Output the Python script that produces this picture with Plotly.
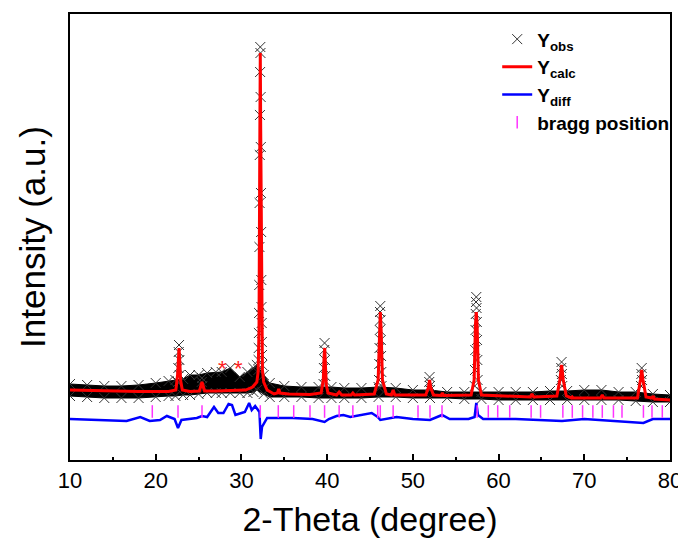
import plotly.graph_objects as go

# ---- data (intensity in arbitrary units) ----
band_x = [10, 12, 14, 16, 18, 20, 21.5, 22.3, 23.2, 24, 25, 26, 27, 27.7, 28.7, 29.8, 30.7, 31.4, 31.8,
          32.6, 33.3, 35, 37, 39, 40.5, 42, 44, 46, 48, 50, 52, 54, 56, 58, 60, 62, 64, 66, 68, 70,
          72, 74, 76, 78, 80]
band_top = [76, 75, 74, 74, 75, 77, 79, 80, 81, 85, 85, 87, 88, 88, 92, 83, 88, 92, 95,
            85, 77, 74, 73, 73, 73, 72, 72, 73, 72, 70, 70, 68, 68, 68, 68, 68, 68, 69, 69, 70,
            70, 68, 68, 66, 65]
band_bottom = [64, 63, 62, 62, 62, 63, 64, 64, 65, 65, 66, 67, 67, 67, 67, 67, 67, 68, 70,
               66, 63, 63, 63, 62, 62, 62, 62, 63, 63, 62, 62, 62, 61, 61, 60, 60, 60, 60, 60, 60,
               60, 60, 59, 58, 58]

obs_peak_x = [22.72, 22.68, 22.76, 22.64, 22.8, 22.6,
              25.4, 25.36, 25.44,
              32.2, 32.22, 32.18, 32.24, 32.16, 32.26, 32.14, 32.28, 32.12, 32.3, 32.1, 32.32,
              32.08, 32.34, 32.06, 32.36, 32.04, 32.38, 32.02, 32.4, 32.0, 32.42, 31.98,
              39.7, 39.66, 39.74, 39.62, 39.78, 39.58,
              46.2, 46.17, 46.23, 46.14, 46.26, 46.11, 46.29, 46.08, 46.32, 46.05, 46.35,
              51.95, 51.91, 51.99,
              57.4, 57.37, 57.43, 57.34, 57.46, 57.31, 57.49, 57.28, 57.52, 57.25, 57.55, 57.22,
              67.35, 67.31, 67.39, 67.27, 67.43,
              76.7, 76.66, 76.74, 76.62]
obs_peak_y = [115, 108, 100, 92, 85, 78,
              82, 78, 74,
              413, 407, 388, 363, 345, 313, 305, 267, 257, 228, 213, 180,
              175, 153, 147, 137, 127, 118, 112, 105, 100, 95, 90,
              117, 110, 100, 92, 84, 76,
              154, 148, 140, 130, 120, 112, 104, 96, 88, 80, 74,
              83, 78, 74,
              163, 158, 152, 146, 138, 130, 120, 110, 100, 90, 80, 74,
              98, 92, 86, 80, 74,
              92, 86, 80, 74]

calc_x = [10, 12, 15, 18, 21.5,
          22.35, 22.55, 22.65, 22.72, 22.8, 22.9, 23.1,
          24, 25.1, 25.3, 25.4, 25.5, 25.7,
          27, 29, 30.5, 31.3, 31.8,
          31.95, 32.05, 32.15, 32.2, 32.25, 32.35, 32.45,
          32.6, 33.0, 33.8, 34.2, 34.35, 34.5, 35.5, 38,
          39.3, 39.55, 39.65, 39.72, 39.8, 39.9, 40.1,
          41.1, 41.4, 41.7, 42.8, 43.0, 43.2, 45.5,
          45.95, 46.1, 46.2, 46.3, 46.45, 46.9,
          47.5, 47.7, 47.9, 51.5, 51.8, 51.95, 52.1, 52.4,
          53.3, 53.45, 53.6, 56.8,
          57.15, 57.3, 57.4, 57.5, 57.65, 58.0,
          63.7, 63.9, 64.1, 66.8,
          67.15, 67.35, 67.55, 67.9,
          68.5, 68.6, 68.7, 71.9, 72.1, 72.3, 76.2,
          76.55, 76.7, 76.85, 77.2,
          77.9, 78.05, 78.2, 80]
calc_y = [70, 69.5, 69, 68.5, 68.5,
          70, 85, 105, 112, 100, 80, 70,
          68.5, 69, 75, 78, 75, 69,
          69, 69.5, 70, 73, 78,
          88, 130, 330, 407, 330, 140, 90,
          78, 70, 66, 67, 71, 67, 66, 65.5,
          67, 80, 105, 112, 95, 75, 67,
          65, 68, 65, 65, 67, 65, 66,
          80, 130, 148, 130, 80, 66,
          65, 70, 65, 65, 72, 80, 72, 65,
          64.5, 67, 64.5, 65,
          80, 135, 148, 135, 80, 65,
          63, 66, 63, 64,
          80, 95, 80, 64,
          62, 63, 62, 62, 65, 62, 62,
          80, 90, 80, 63,
          62, 64, 61, 60]

diff_x = [10, 13, 16.6, 18.2, 19.3, 20.5, 21.3, 22.2, 22.6, 23.0,
          23.7, 24.8, 25.4, 26.0, 26.8, 27.3, 27.9, 28.5, 28.9, 29.3,
          30.0, 30.4, 30.9, 31.2, 31.6, 31.9, 32.1, 32.25, 32.4, 33.0,
          36.0, 38.3, 39.7, 40.2, 41.1, 41.9, 42.7, 45.2, 45.9, 46.2,
          48.1, 50, 52.0, 53.4, 54.3, 56.5, 57.2, 57.4, 57.6, 58.2,
          62, 67.4, 70, 76.9, 78, 80]
diff_y = [41, 40, 39, 43, 39, 40, 44, 41, 32, 40,
          41, 42, 44, 43, 53, 47, 47, 56, 55, 45,
          47, 48, 57, 50, 54, 50, 48, 21, 33, 42,
          42, 41, 38, 41, 44, 45, 43, 47, 43, 40,
          43, 41, 40, 45, 41, 41, 43, 57, 45, 41,
          41, 39, 41, 37, 41, 41]

bragg_x = [19.6, 22.6, 25.4, 32.2, 34.3, 36.1, 38.0, 39.7, 41.4, 43.0, 45.9,
           46.2, 47.7, 50.6, 52.0, 53.4, 57.5, 58.8, 59.9, 61.3, 63.8, 64.9, 67.5,
           68.6, 69.8, 71.0, 72.1, 73.4, 74.4, 76.9, 77.9, 79.1]
bragg_level = 48.5

star_x = [27.8, 29.6]
star_y = [92, 92]

x_ticks = [10, 20, 30, 40, 50, 60, 70, 80]

FONT = "Liberation Sans, Arial, sans-serif"

fig = go.Figure()

# dense observed band
fig.add_trace(go.Scatter(
    x=band_x + band_x[::-1], y=band_top + band_bottom[::-1],
    fill="toself", fillcolor="black", mode="lines",
    line=dict(color="black", width=1), showlegend=False, hoverinfo="skip"))

# observed markers
fig.add_trace(go.Scatter(
    x=obs_peak_x + band_x + band_x, y=obs_peak_y + band_top + band_bottom,
    mode="markers", name="<b>Y<sub>obs</sub></b>",
    marker=dict(symbol="x-thin-open", size=10, color="#333333",
                line=dict(color="#333333", width=1))))

fig.add_trace(go.Scatter(
    x=calc_x, y=calc_y, mode="lines", name="<b>Y<sub>calc</sub></b>",
    line=dict(color="#ff0000", width=3)))

fig.add_trace(go.Scatter(
    x=diff_x, y=diff_y, mode="lines", name="<b>Y<sub>diff</sub></b>",
    line=dict(color="#0000ff", width=2.5)))

fig.add_trace(go.Scatter(
    x=bragg_x, y=[bragg_level] * len(bragg_x), mode="markers",
    name="<b>bragg position</b>",
    marker=dict(symbol="line-ns-open", size=9, color="#ff33ff",
                line=dict(color="#ff33ff", width=1.5))))

for sx, sy in zip(star_x, star_y):
    fig.add_annotation(x=sx, y=sy, text="*", showarrow=False,
                       font=dict(family=FONT, size=22, color="#ff2020"))

# the page body adds an 8px offset, so the figure is sized to fit the 686x538 window
fig.update_layout(
    width=678, height=530,
    margin=dict(l=62, r=16, t=6, b=78),
    paper_bgcolor="white", plot_bgcolor="white",
    font=dict(family=FONT, color="black"),
    legend=dict(x=0.712, y=0.986, xanchor="left", yanchor="top",
                font=dict(family=FONT, size=19, color="black"),
                bgcolor="rgba(0,0,0,0)"),
)

fig.update_xaxes(
    range=[10, 80], tickvals=x_ticks, ticks="inside", ticklen=6, tickwidth=2,
    tickcolor="black", showline=True, linewidth=2, linecolor="black", mirror=True,
    showgrid=False, zeroline=False, tickfont=dict(family=FONT, size=22),
    minor=dict(ticks="inside", ticklen=3, tickwidth=2, dtick=5, tickcolor="black"),
    title=dict(text="2-Theta (degree)", font=dict(family=FONT, size=34), standoff=18),
    automargin=False,
)
fig.update_yaxes(
    range=[0, 446], showticklabels=False, ticks="", showline=True, linewidth=2,
    linecolor="black", mirror=True, showgrid=False, zeroline=False,
    title=dict(text="Intensity (a.u.)", font=dict(family=FONT, size=35), standoff=12),
    automargin=False,
)

fig.write_html("out.html")
